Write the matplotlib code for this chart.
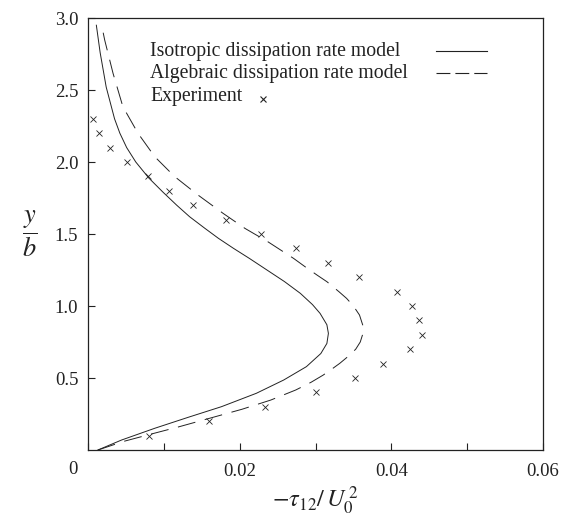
import numpy as np
import matplotlib
matplotlib.use('Agg')
import matplotlib.pyplot as plt

# Shear stress profiles across the jet: -tau_12/U0^2 against y/b
y_iso = [0.0, 0.069, 0.151, 0.227, 0.301, 0.394, 0.486, 0.579, 0.67, 0.74,
         0.81, 0.87, 0.949, 1.01, 1.088, 1.17, 1.25, 1.33, 1.40, 1.47, 1.54,
         1.62, 1.70, 1.79, 1.89, 2.0, 2.1, 2.2, 2.3, 2.52, 2.76, 2.95]
x_iso = [0.0013, 0.0044, 0.0088, 0.0132, 0.0176, 0.0222, 0.0258, 0.0288,
         0.0307, 0.0315, 0.0317, 0.0315, 0.0306, 0.0296, 0.0280, 0.0259,
         0.0236, 0.0213, 0.0192, 0.0172, 0.0154, 0.0134, 0.0117, 0.0099,
         0.0080, 0.0063, 0.0051, 0.0042, 0.0035, 0.0024, 0.0016, 0.0011]

y_alg = [0.0, 0.06, 0.116, 0.16, 0.22, 0.283, 0.347, 0.417, 0.47, 0.52,
         0.56, 0.602, 0.65, 0.70, 0.75, 0.80, 0.856, 0.9375, 1.0, 1.053,
         1.099, 1.169, 1.215, 1.27, 1.331, 1.389, 1.447, 1.539, 1.644,
         1.771, 1.90, 2.037, 2.199, 2.384, 2.616, 2.847, 2.95]
x_alg = [0.0013, 0.0047, 0.0087, 0.0119, 0.0160, 0.0203, 0.0241, 0.0274,
         0.0294, 0.0310, 0.0321, 0.0332, 0.0343, 0.0353, 0.0359, 0.0362,
         0.0363, 0.0358, 0.0350, 0.0341, 0.0331, 0.0315, 0.0302, 0.0287,
         0.0271, 0.0254, 0.0237, 0.0207, 0.0178, 0.0145, 0.0114, 0.0088,
         0.0066, 0.0046, 0.0033, 0.0022, 0.0018]

y_exp = [0.1, 0.2, 0.3, 0.4, 0.5, 0.6, 0.7, 0.8, 0.9, 1.0, 1.1, 1.2, 1.3,
         1.4, 1.5, 1.6, 1.7, 1.8, 1.9, 2.0, 2.1, 2.2, 2.3]
x_exp = [0.0080, 0.0159, 0.0233, 0.0300, 0.0352, 0.0389, 0.0425, 0.0441,
         0.0437, 0.0427, 0.0407, 0.0358, 0.0317, 0.0274, 0.0228, 0.0182,
         0.0139, 0.0107, 0.0079, 0.0051, 0.0029, 0.00145, 0.00062]

x_ticks = [0.0, 0.01, 0.02, 0.03, 0.04, 0.05, 0.06]
x_ticklabels = ['', '', '0.02', '', '0.04', '', '0.06']
y_ticks = [0.5, 1.0, 1.5, 2.0, 2.5, 3.0]

labels = ['Isotropic dissipation rate model',
          'Algebraic dissipation rate model',
          'Experiment']

plt.rcParams['font.family'] = ['Liberation Serif', 'DejaVu Serif']
plt.rcParams['mathtext.fontset'] = 'stix'
plt.rcParams['lines.scale_dashes'] = False

ink = '#222222'
dash = (13, 7)

fig = plt.figure(figsize=(5.62, 5.19), dpi=100)
ax = fig.add_axes([0.1566, 0.1329, 0.8096, 0.8324])

ax.plot(x_iso, y_iso, color=ink, lw=0.7)
ax.plot(x_alg, y_alg, color=ink, lw=0.7, dashes=dash)
ax.plot(x_exp, y_exp, ls='none', marker='x', ms=4.5, mew=0.6, color=ink)

ax.set_xlim(0, 0.06)
ax.set_ylim(0, 3.0)
ax.set_xticks(x_ticks)
ax.set_xticklabels(x_ticklabels)
ax.set_yticks(y_ticks)
ax.set_yticklabels([f'{v:.1f}' for v in y_ticks])
ax.tick_params(direction='in', length=5, width=0.8, labelsize=13.5,
               colors=ink)
ax.tick_params(axis='x', pad=9)
ax.tick_params(axis='y', pad=7)
for s in ax.spines.values():
    s.set_linewidth(0.9)
    s.set_color(ink)

# origin label sits below-left of the corner
ax.annotate('0', xy=(0, 0), xycoords='axes fraction', xytext=(-15, -11),
            textcoords='offset pixels', ha='center', va='top',
            fontsize=13.5, color=ink)

ax.set_xlabel(r'$-\tau_{12}/\,U_0^{\,2}$', fontsize=17.5, color=ink,
              labelpad=4)
ax.set_ylabel(r'$\dfrac{y}{b}$', fontsize=19, rotation=0, color=ink,
              labelpad=18, va='center')

# key: text on the left, line samples on the right
tx = 0.1363
rows = [0.911, 0.8604, 0.8079]
for lab, yr in zip(labels, rows):
    ax.text(tx, yr, lab, transform=ax.transAxes, fontsize=14.2,
            color=ink, va='baseline', ha='left')
ax.plot([0.7648, 0.8769], [0.9236, 0.9236], transform=ax.transAxes,
        color=ink, lw=0.8)
ax.plot([0.7648, 0.8769], [0.8738, 0.8738], transform=ax.transAxes,
        color=ink, lw=0.8, dashes=(10, 3.6))
ax.plot([0.3846], [0.812], transform=ax.transAxes, ls='none', marker='x',
        ms=4.5, mew=0.8, color=ink)

fig.savefig('out.png', dpi=100)
